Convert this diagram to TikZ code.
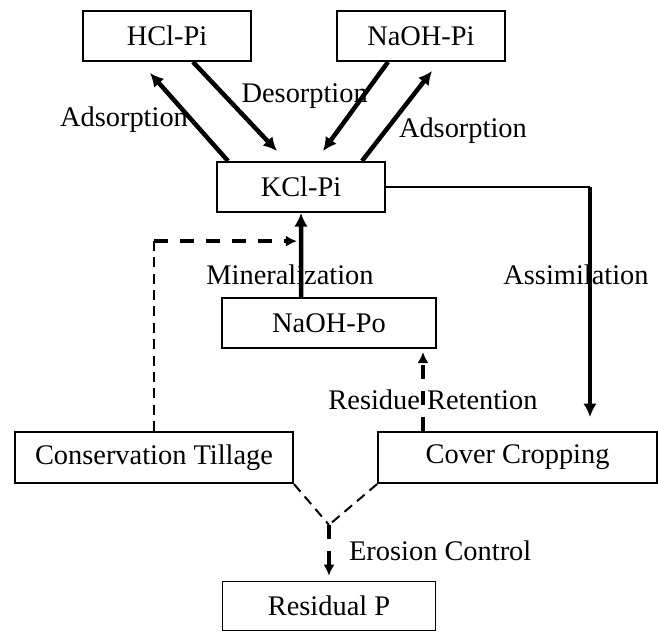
\documentclass[tikz,border=0pt]{standalone}
\usepackage{fontspec}
\setmainfont{Liberation Serif}
\usetikzlibrary{shapes,arrows,arrows.meta,positioning,calc}

\begin{document}
\begin{tikzpicture}[font=\fontsize{20.2}{23}\selectfont,
  box/.style={draw, rectangle, line width=1.4pt, inner sep=0pt, minimum height=1.25cm},
  flow/.style={line width=3.2pt, -{Latex[length=3.4mm,width=3.4mm]}},
  dflow/.style={line width=3pt, dash pattern=on 3.5mm off 3mm, -{Latex[length=2.8mm,width=2.8mm]}},
  thinline/.style={line width=1.4pt},
  thindash/.style={line width=1.4pt, dash pattern=on 2.5mm off 1.6mm}]
\useasboundingbox (0,0) rectangle (16.45,-15.8);

% pools
\node[box, minimum width=4.2cm] (hcl) at (4.175,-0.9) {HCl-Pi};
\node[box, minimum width=4.2cm] (naohpi) at (10.525,-0.9) {NaOH-Pi};
\node[box, minimum width=4.2cm] (kcl) at (7.525,-4.675) {KCl-Pi};
\node[box, minimum width=5.35cm] (naohpo) at (8.225,-8.075) {NaOH-Po};

% practices
\node[box, minimum width=6.95cm, minimum height=1.275cm] (ct) at (3.85,-11.44) {Conservation Tillage};
\node[box, minimum width=6.975cm, minimum height=1.275cm] (cc) at (12.94,-11.44) {Cover Cropping};

% residual pool
\node[box, minimum width=5.325cm, minimum height=1.225cm] (residual) at (8.225,-15.15) {Residual P};

% helper points
\coordinate (bend) at ([yshift=4.75cm]ct.north);
\coordinate (asmtip) at ([xshift=1.81cm,yshift=0.35cm]cc.north);
\coordinate (rrtip) at ([xshift=-0.35cm,yshift=-0.075cm]naohpo.south east);
\coordinate (junction) at ([yshift=1.39cm]residual.north);

% sorption arrows
\draw[flow] ([xshift=0.3cm]kcl.north west) -- node[pos=0.467, anchor=east, inner sep=1pt] {Adsorption} ([xshift=-0.425cm,yshift=-0.275cm]hcl.south);
\draw[flow] ([xshift=0.65cm]hcl.south) -- node[pos=0.385, anchor=west, inner sep=0pt, xshift=0.35cm] {Desorption} ([xshift=-0.6cm,yshift=0.25cm]kcl.north);
\draw[flow] ([xshift=-0.825cm]naohpi.south) -- ([xshift=0.55cm,yshift=0.25cm]kcl.north);
\draw[flow] ([xshift=1.525cm]kcl.north) -- node[pos=0.337, anchor=west, inner sep=0pt, xshift=0.28cm] {Adsorption} ([xshift=0.275cm,yshift=-0.225cm]naohpi.south);

% mineralization
\draw[flow] ([xshift=-0.7cm]naohpo.north) -- node[pos=0.267, xshift=-0.275cm] {Mineralization} (kcl.south);

% tillage link
\draw[thindash] (ct.north) -- (bend);
\draw[dflow, shorten >=1mm] (bend) -- (kcl.south |- bend);

% assimilation
\draw[thinline] (kcl.east) -- (kcl.east -| asmtip);
\draw[flow] (kcl.east -| asmtip) -- node[pos=0.38, xshift=-0.35cm] {Assimilation} (asmtip);

% residue retention
\draw[dflow] (cc.north -| rrtip) -- node[pos=0.395, xshift=0.25cm] {Residue Retention} (rrtip);

% erosion control
\draw[thindash] (ct.south east) -- (junction);
\draw[thindash] (cc.south west) -- (junction);
\draw[dflow, shorten >=0.12cm] (junction) -- node[pos=0.47, anchor=west, inner sep=0pt, xshift=0.45cm] {Erosion Control} (residual.north);
\end{tikzpicture}
\end{document}
